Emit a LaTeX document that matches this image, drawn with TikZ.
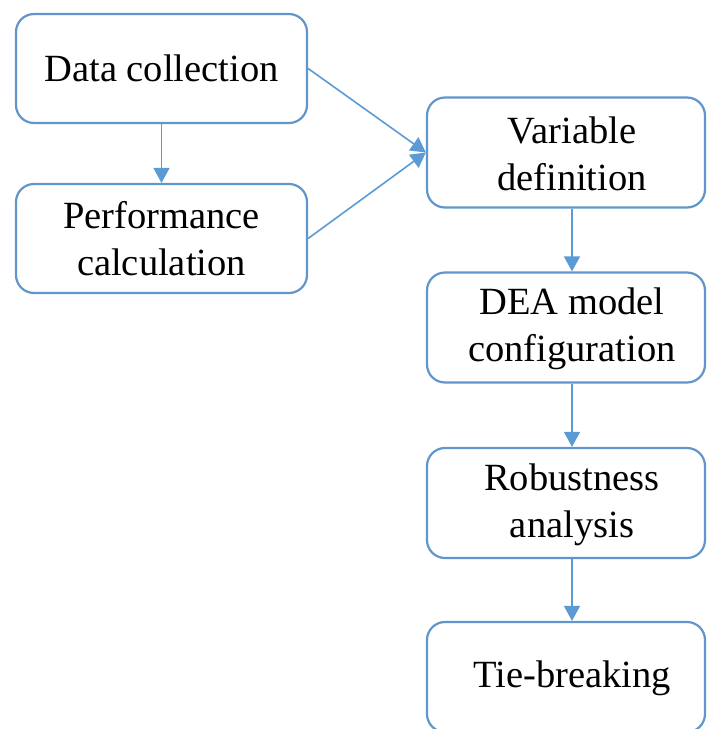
\documentclass[tikz,border=0pt]{standalone}
\usepackage{fontspec}
\setmainfont{Liberation Serif}
\usetikzlibrary{arrows.meta}
\definecolor{edge}{RGB}{96,150,204}
\definecolor{arr}{RGB}{91,155,213}
\tikzset{
  box/.style={draw=edge, line width=2.2pt, rounded corners=18pt, fill=white, inner sep=0pt},
  leftbox/.style={box, minimum width=291pt, minimum height=109pt, align=center, font=\fontsize{38.5pt}{47pt}\selectfont},
  rightbox/.style={box, minimum width=278pt, minimum height=110pt},
  txt/.style={align=center, inner sep=0pt, font=\fontsize{38.5pt}{47pt}\selectfont},
  conn/.style={draw=arr, line width=1.6pt, -{Triangle[width=16pt,length=15pt]}}
}
\begin{document}
\begin{tikzpicture}[x=1pt,y=-1pt]
\useasboundingbox (0,0) rectangle (707,729);
\node[leftbox] (dc) at (161.5,68.5) {Data collection};
\node[leftbox] (pc) at (161.5,238.5) {Performance\\calculation};
\node[rightbox] (vdb) at (566,152.5) {};
\node[txt] (vd) at (572,154) {Variable\\definition};
\node[rightbox] (deab) at (566,327.5) {};
\node[txt] (dea) at (572,329) {DEA model\\configuration};
\node[rightbox] (rb) at (566,503) {};
\node[txt] (r) at (572,504.5) {Robustness\\analysis};
\node[rightbox] (tb) at (566,677) {};
\node[txt] (t) at (572,678) {Tie-breaking};
\draw[conn] (dc.south) -- (pc.north);
\draw[conn] (dc.east) -- (vdb.west);
\draw[conn] (pc.east) -- (vdb.west);
\draw[conn] ([xshift=6pt]vdb.south) -- ([xshift=6pt]deab.north);
\draw[conn] ([xshift=6pt]deab.south) -- ([xshift=6pt]rb.north);
\draw[conn] ([xshift=6pt]rb.south) -- ([xshift=6pt]tb.north);
\end{tikzpicture}
\end{document}
